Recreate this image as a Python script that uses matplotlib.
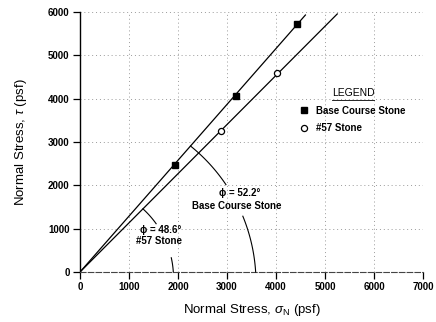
"""Direct shear results: shear stress vs normal stress for the two stone gradations."""
import matplotlib
matplotlib.use("Agg")
import matplotlib.pyplot as plt
import numpy as np

plt.rcParams["font.family"] = ["Liberation Sans", "DejaVu Sans"]
plt.rcParams["mathtext.fontset"] = "custom"
plt.rcParams["mathtext.rm"] = "Liberation Sans"
plt.rcParams["mathtext.it"] = "Liberation Sans:italic"

# measured points (psf)
base_sigma = [1940, 3180, 4430]
base_tau = [2460, 4070, 5730]
s57_sigma = [2880, 4020]
s57_tau = [3250, 4590]

# friction angles (deg) and extent of the fitted envelopes (psf)
base_phi = 52.2
s57_phi = 48.6
base_line_end = 4600
s57_line_end = 5250

x_ticks = [0, 1000, 2000, 3000, 4000, 5000, 6000, 7000]
y_ticks = [0, 1000, 2000, 3000, 4000, 5000, 6000]

fig = plt.figure(figsize=(4.36, 3.22), dpi=100)
ax = fig.add_axes([80 / 436, 50 / 322, 343 / 436, 260 / 322])
ax.set_xlim(0, 7000)
ax.set_ylim(0, 6000)
ax.set_xticks(x_ticks)
ax.set_yticks(y_ticks)
ax.tick_params(labelsize=7, length=5, width=0.9, pad=2.5, color="black")
for lab in ax.get_xticklabels() + ax.get_yticklabels():
    lab.set_fontweight("bold")

ax.grid(True, color="#9a9a9a", linestyle=(0, (1, 3)), lw=0.7)
ax.spines["top"].set_visible(False)
ax.spines["right"].set_visible(False)
ax.spines["left"].set_linewidth(1.0)
ax.spines["bottom"].set_linewidth(0.8)
ax.spines["bottom"].set_color("#444444")
ax.spines["bottom"].set_linestyle((0, (5, 2)))

# failure envelopes through the origin
xb = np.array([0, base_line_end])
xs = np.array([0, s57_line_end])
ax.plot(xb, xb * np.tan(np.radians(base_phi)), color="black", lw=0.9, zorder=3)
ax.plot(xs, xs * np.tan(np.radians(s57_phi)), color="black", lw=0.9, zorder=3)

ax.plot(base_sigma, base_tau, "s", color="black", ms=4, zorder=4,
        label="Base Course Stone")
ax.plot(s57_sigma, s57_tau, "o", mfc="white", mec="black", mew=0.9, ms=4.4,
        zorder=4, label="#57 Stone")

ax.set_xlabel(r"Normal Stress, $\sigma_\mathrm{N}$ (psf)", fontsize=9.5, labelpad=7)
ax.set_ylabel(r"Normal Stress, $\tau$ (psf)", fontsize=9.5, labelpad=14)


def angle_arc(phi, radius, drop, pieces):
    """Draw an angle arc (a circle in screen pixels) from the envelope down to the axis."""
    to_px = ax.transData
    o = to_px.transform((0, 0))
    c = o - np.array([0, drop])
    p1 = to_px.transform((1000, 1000 * np.tan(np.radians(phi))))
    u = (p1 - o) / np.hypot(*(p1 - o))
    s = -drop * u[1] + np.sqrt((drop * u[1]) ** 2 - drop ** 2 + radius ** 2)
    hit = o + s * u
    start = np.degrees(np.arctan2(hit[1] - c[1], hit[0] - c[0]))
    stop = np.degrees(np.arcsin(drop / radius))
    bounds = [start] + pieces + [stop]
    for a0, a1 in zip(bounds[0::2], bounds[1::2]):
        t = np.radians(np.linspace(a0, a1, 40))
        pts = np.column_stack([c[0] + radius * np.cos(t), c[1] + radius * np.sin(t)])
        xy = to_px.inverted().transform(pts)
        ax.plot(xy[:, 0], xy[:, 1], color="black", lw=0.8, zorder=3, clip_on=False)


angle_arc(base_phi, 176, 11, [34, 22.3])
angle_arc(s57_phi, 93.5, 6, [35.5, 12.5])

ax.text(3250, 1820, "\u03d5 = 52.2°", fontsize=7, fontweight="bold",
        ha="center", va="center")
ax.text(3200, 1530, "Base Course Stone", fontsize=7, fontweight="bold",
        ha="center", va="center")
ax.text(1640, 970, "\u03d5 = 48.6°", fontsize=7, fontweight="bold",
        ha="center", va="center")
ax.text(1610, 720, "#57 Stone", fontsize=7, fontweight="bold",
        ha="center", va="center")

leg = ax.legend(loc="upper left", bbox_to_anchor=(0.63, 0.725), frameon=False,
                fontsize=7, title="LEGEND", borderpad=0, handlelength=0.6,
                handletextpad=0.9, labelspacing=0.75)
leg.get_title().set_fontsize(7.5)
for t in leg.get_texts():
    t.set_fontweight("bold")

# underline the legend title
fig.canvas.draw()
bb = leg.get_title().get_window_extent().transformed(fig.transFigure.inverted())
fig.add_artist(plt.Line2D([bb.x0, bb.x1], [bb.y0 - 0.004, bb.y0 - 0.004],
                          transform=fig.transFigure, color="black", lw=0.6))

fig.savefig("out.png", dpi=100)
